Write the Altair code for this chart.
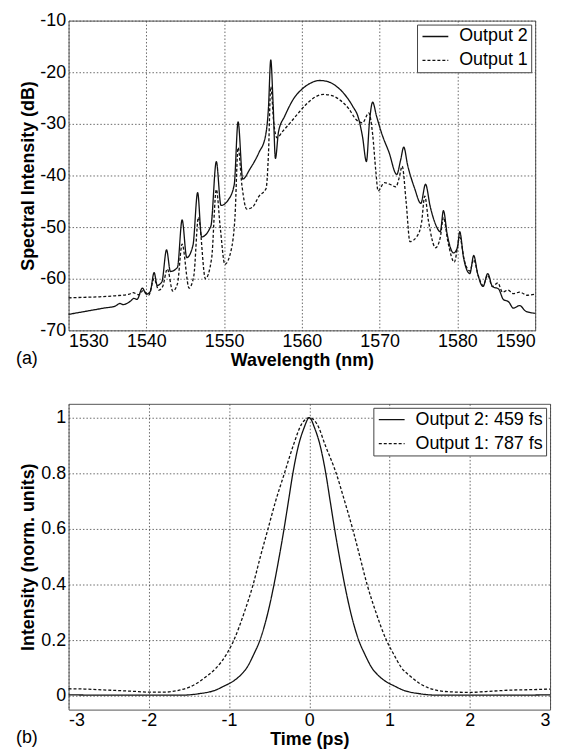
import altair as alt
import pandas as pd

# ---------------- (a) spectra ----------------
wl_out2 = [1530, 1531.5, 1533, 1534.5, 1536, 1536.6, 1537, 1538, 1538.4, 1538.8, 1539.5, 1540, 1540.5,
           1541.0, 1541.4, 1542.0, 1542.6, 1543.1, 1544.0, 1544.6, 1545.2, 1546.0, 1546.6, 1547.1, 1548.3,
           1549.0, 1549.6, 1550.5, 1551.3, 1551.8, 1552.4, 1553.3, 1554.5, 1555.3, 1555.7, 1556.0, 1556.3,
           1556.6, 1557.0, 1557.8, 1559, 1560, 1561, 1562.3, 1563.5, 1564.5, 1565.5, 1566.5, 1567.3, 1567.8,
           1568.3, 1568.7, 1569.1, 1569.6, 1570.3, 1571.2, 1572.2, 1572.7, 1573.1, 1573.6, 1574.5, 1575.3,
           1575.9, 1576.5, 1577.2, 1577.8, 1578.2, 1578.7, 1579.5, 1580.0, 1580.3, 1580.8, 1581.6, 1582.1,
           1582.6, 1583.3, 1583.9, 1584.5, 1585.3, 1585.9, 1586.6, 1587.2, 1588.0, 1588.8, 1590]
db_out2 = [-66.9, -66.5, -66.1, -65.7, -65.3, -64.8, -65.0, -64.3, -63.8, -64.0, -61.8, -63.0, -62.5,
           -58.8, -61.3, -60.6, -54.4, -58.6, -57.8, -48.6, -55.9, -53.5, -43.3, -51.9, -49.8,
           -37.3, -45.8, -44.8, -41.8, -29.6, -40.7, -38.8, -35.5, -32.5, -27.0, -17.6, -26.0,
           -36.7, -31.5, -28.5, -25.0, -23.3, -22.2, -21.6, -21.9, -22.8, -24.3, -26.5, -29.0, -32.5,
           -37.3, -29.5, -25.8, -28.5, -32.0, -35.5, -39.8, -37.0, -34.5, -38.0, -42.5, -45.4,
           -41.7, -46.0, -49.5, -50.9, -46.8, -51.5, -55.0, -54.0, -50.9, -56.0, -59.0, -55.5,
           -59.0, -61.5, -59.0, -61.5, -62.0, -64.0, -64.5, -65.7, -65.2, -66.3, -66.7]

wl_out1 = [1530, 1532, 1534, 1536, 1537.8, 1538.3, 1539, 1539.6, 1540.3, 1541.0, 1541.6, 1542.1, 1542.7,
           1543.4, 1544.0, 1544.6, 1545.5, 1546.1, 1546.7, 1547.6, 1548.4, 1549.0, 1549.5, 1550.1, 1550.9,
           1551.4, 1551.8, 1552.3, 1552.9, 1553.6, 1554.5, 1555.4, 1555.7, 1556.0, 1556.4, 1556.8, 1557.5,
           1558.5, 1559.5, 1560.5, 1561.5, 1562.8, 1564, 1565, 1566, 1567, 1567.8, 1568.6, 1569.1, 1569.5,
           1569.8, 1570.6, 1571.3, 1572.1, 1572.5, 1572.9, 1573.4, 1573.9, 1574.8, 1575.4, 1575.8, 1576.3,
           1577.2, 1577.8, 1578.2, 1578.8, 1579.6, 1580.3, 1580.9, 1581.6, 1582.1, 1582.7, 1583.3, 1583.9,
           1584.5, 1585.2, 1585.8, 1586.5, 1587.2, 1588, 1589, 1590]
db_out1 = [-63.7, -63.6, -63.5, -63.3, -63.0, -62.7, -63.1, -62.3, -63.2, -60.0, -62.2, -61.5, -58.1,
           -62.4, -61.0, -53.3, -61.8, -59.5, -48.1, -60.0, -56.0, -42.7, -50.0, -57.2, -54.5,
           -48.0, -34.6, -42.0, -46.5, -46.2, -44.0, -42.5, -36.0, -22.8, -30.0, -32.7, -31.5,
           -29.8, -28.0, -26.3, -25.0, -24.3, -24.6, -25.5, -27.0, -29.2, -29.8, -27.9, -32.0, -39.0,
           -43.0, -41.4, -41.7, -42.2, -40.5, -38.2, -45.0, -52.8, -51.8, -49.0, -44.0, -49.0,
           -54.0, -52.0, -48.1, -53.0, -56.8, -52.0, -56.5, -58.5, -56.3, -59.5, -61.3, -59.3,
           -61.5, -60.8, -62.6, -62.2, -62.9, -62.6, -63.2, -63.0]

# ---------------- (b) autocorrelation ----------------
t_out2 = [-3, -2.5, -2, -1.6, -1.38, -1.17, -1.06, -0.96, -0.87, -0.78, -0.69, -0.615, -0.515, -0.44,
          -0.375, -0.315, -0.26, -0.205, -0.135, -0.07, 0, 0.07, 0.135, 0.205, 0.26, 0.315, 0.375, 0.44,
          0.515, 0.615, 0.69, 0.78, 0.87, 0.96, 1.06, 1.17, 1.38, 1.6, 2, 2.5, 3]
i_out2 = [0.003, 0.002, 0.002, 0.002, 0.007, 0.02, 0.035, 0.05, 0.07, 0.1, 0.15, 0.2, 0.3, 0.4,
          0.5, 0.6, 0.7, 0.8, 0.9, 0.96, 1.0, 0.96, 0.9, 0.8, 0.7, 0.6, 0.5, 0.4,
          0.3, 0.2, 0.15, 0.1, 0.07, 0.05, 0.035, 0.02, 0.007, 0.002, 0.002, 0.002, 0.003]

t_out1 = [-3, -2.8, -2.5, -2.2, -2.0, -1.8, -1.62, -1.5, -1.4, -1.28, -1.16, -1.03, -0.94, -0.81, -0.70,
          -0.61, -0.515, -0.42, -0.31, -0.2, -0.1, 0, 0.1, 0.2, 0.335, 0.44, 0.54, 0.63, 0.72, 0.83, 0.96,
          1.05, 1.15, 1.26, 1.37, 1.47, 1.58, 1.75, 2.0, 2.2, 2.5, 2.8, 3.0]
i_out1 = [0.025, 0.024, 0.02, 0.016, 0.013, 0.013, 0.02, 0.03, 0.045, 0.07, 0.1, 0.15, 0.2, 0.3, 0.4,
          0.5, 0.6, 0.7, 0.8, 0.9, 0.975, 1.0, 0.975, 0.9, 0.8, 0.7, 0.6, 0.5, 0.4, 0.3, 0.2,
          0.15, 0.1, 0.07, 0.045, 0.03, 0.02, 0.014, 0.012, 0.015, 0.02, 0.022, 0.024]

spec_names = ["Output 2", "Output 1"]
pulse_names = ["Output 2: 459 fs", "Output 1: 787 fs"]
wl_ticks = [1530, 1540, 1550, 1560, 1570, 1580, 1590]
db_ticks = [-70, -60, -50, -40, -30, -20, -10]
t_ticks = [-3, -2, -1, 0, 1, 2, 3]
i_ticks = [0, 0.2, 0.4, 0.6, 0.8, 1]

FONT = "Liberation Sans"
DASHES = [[1, 0], [3, 2]]


def frame(xs, ys, name):
    return pd.DataFrame({"x": xs, "y": ys, "s": name, "o": list(range(len(xs)))})


df_a = pd.concat([frame(wl_out2, db_out2, spec_names[0]), frame(wl_out1, db_out1, spec_names[1])])
df_b = pd.concat([frame(t_out2, i_out2, pulse_names[0]), frame(t_out1, i_out1, pulse_names[1])])


def legend():
    return alt.Legend(orient="top-right", offset=4, title=None, symbolType="M-2,0L2,0", symbolSize=169,
                      symbolOffset=6.5, labelOffset=15,
                      symbolStrokeWidth=1.3, symbolStrokeColor="#111", labelFontSize=18, labelFont=FONT,
                      labelColor="black", fillColor="white", strokeColor="#444", padding=3, rowPadding=6,
                      labelLimit=400)


def panel(df, names, xdom, xt, ydom, yt, xtitle, ytitle, w, h, tag):
    lines = alt.Chart(df).mark_line(color="#111", strokeWidth=1.3, interpolate="monotone").encode(
        x=alt.X("x:Q", scale=alt.Scale(domain=xdom, nice=False, zero=False),
                axis=alt.Axis(values=xt, title=xtitle, labelExpr="datum.value + ''")),
        y=alt.Y("y:Q", scale=alt.Scale(domain=ydom, nice=False, zero=False),
                axis=alt.Axis(values=yt, title=ytitle, labelExpr="datum.value + ''")),
        strokeDash=alt.StrokeDash("s:N", scale=alt.Scale(domain=names, range=DASHES), legend=legend()),
        order="o:Q",
    )
    label = alt.Chart(pd.DataFrame({"t": [tag]})).mark_text(
        align="left", baseline="middle", fontSize=18, font=FONT, color="black"
    ).encode(text="t:N", x=alt.value(-53), y=alt.value(h + 29))
    return alt.layer(lines, label).properties(width=w, height=h)


top = panel(df_a, spec_names, [1530, 1590], wl_ticks, [-70, -10], db_ticks,
            "Wavelength (nm)", "Spectral Intensity (dB)", 470, 312, "(a)")
bottom = panel(df_b, pulse_names, [-3, 3], t_ticks, [-0.05, 1.05], i_ticks,
               "Time (ps)", "Intensity (norm. units)", 485, 308, "(b)")

chart = alt.vconcat(top, bottom, spacing=33).resolve_scale(
    strokeDash="independent", x="independent", y="independent"
).resolve_legend(strokeDash="independent").properties(
    padding={"left": 7, "top": 0, "right": 5, "bottom": 0}
).configure_view(stroke="#555", strokeWidth=1).configure_axis(
    labelFont=FONT, titleFont=FONT, labelFontSize=18, titleFontSize=18, titleFontWeight="bold",
    labelColor="black", titleColor="black", domain=False, ticks=False, labelPadding=2,
    grid=True, gridColor="#444", gridDash=[1.5, 2], gridWidth=0.8, gridOpacity=1,
).configure_axisY(labelPadding=3, minExtent=29, maxExtent=29, titlePadding=2
).configure_axisX(minExtent=20, maxExtent=20, titlePadding=1
).configure_legend(labelFont=FONT)

chart.save("out.html", embed_options={"renderer": "svg", "actions": False})
